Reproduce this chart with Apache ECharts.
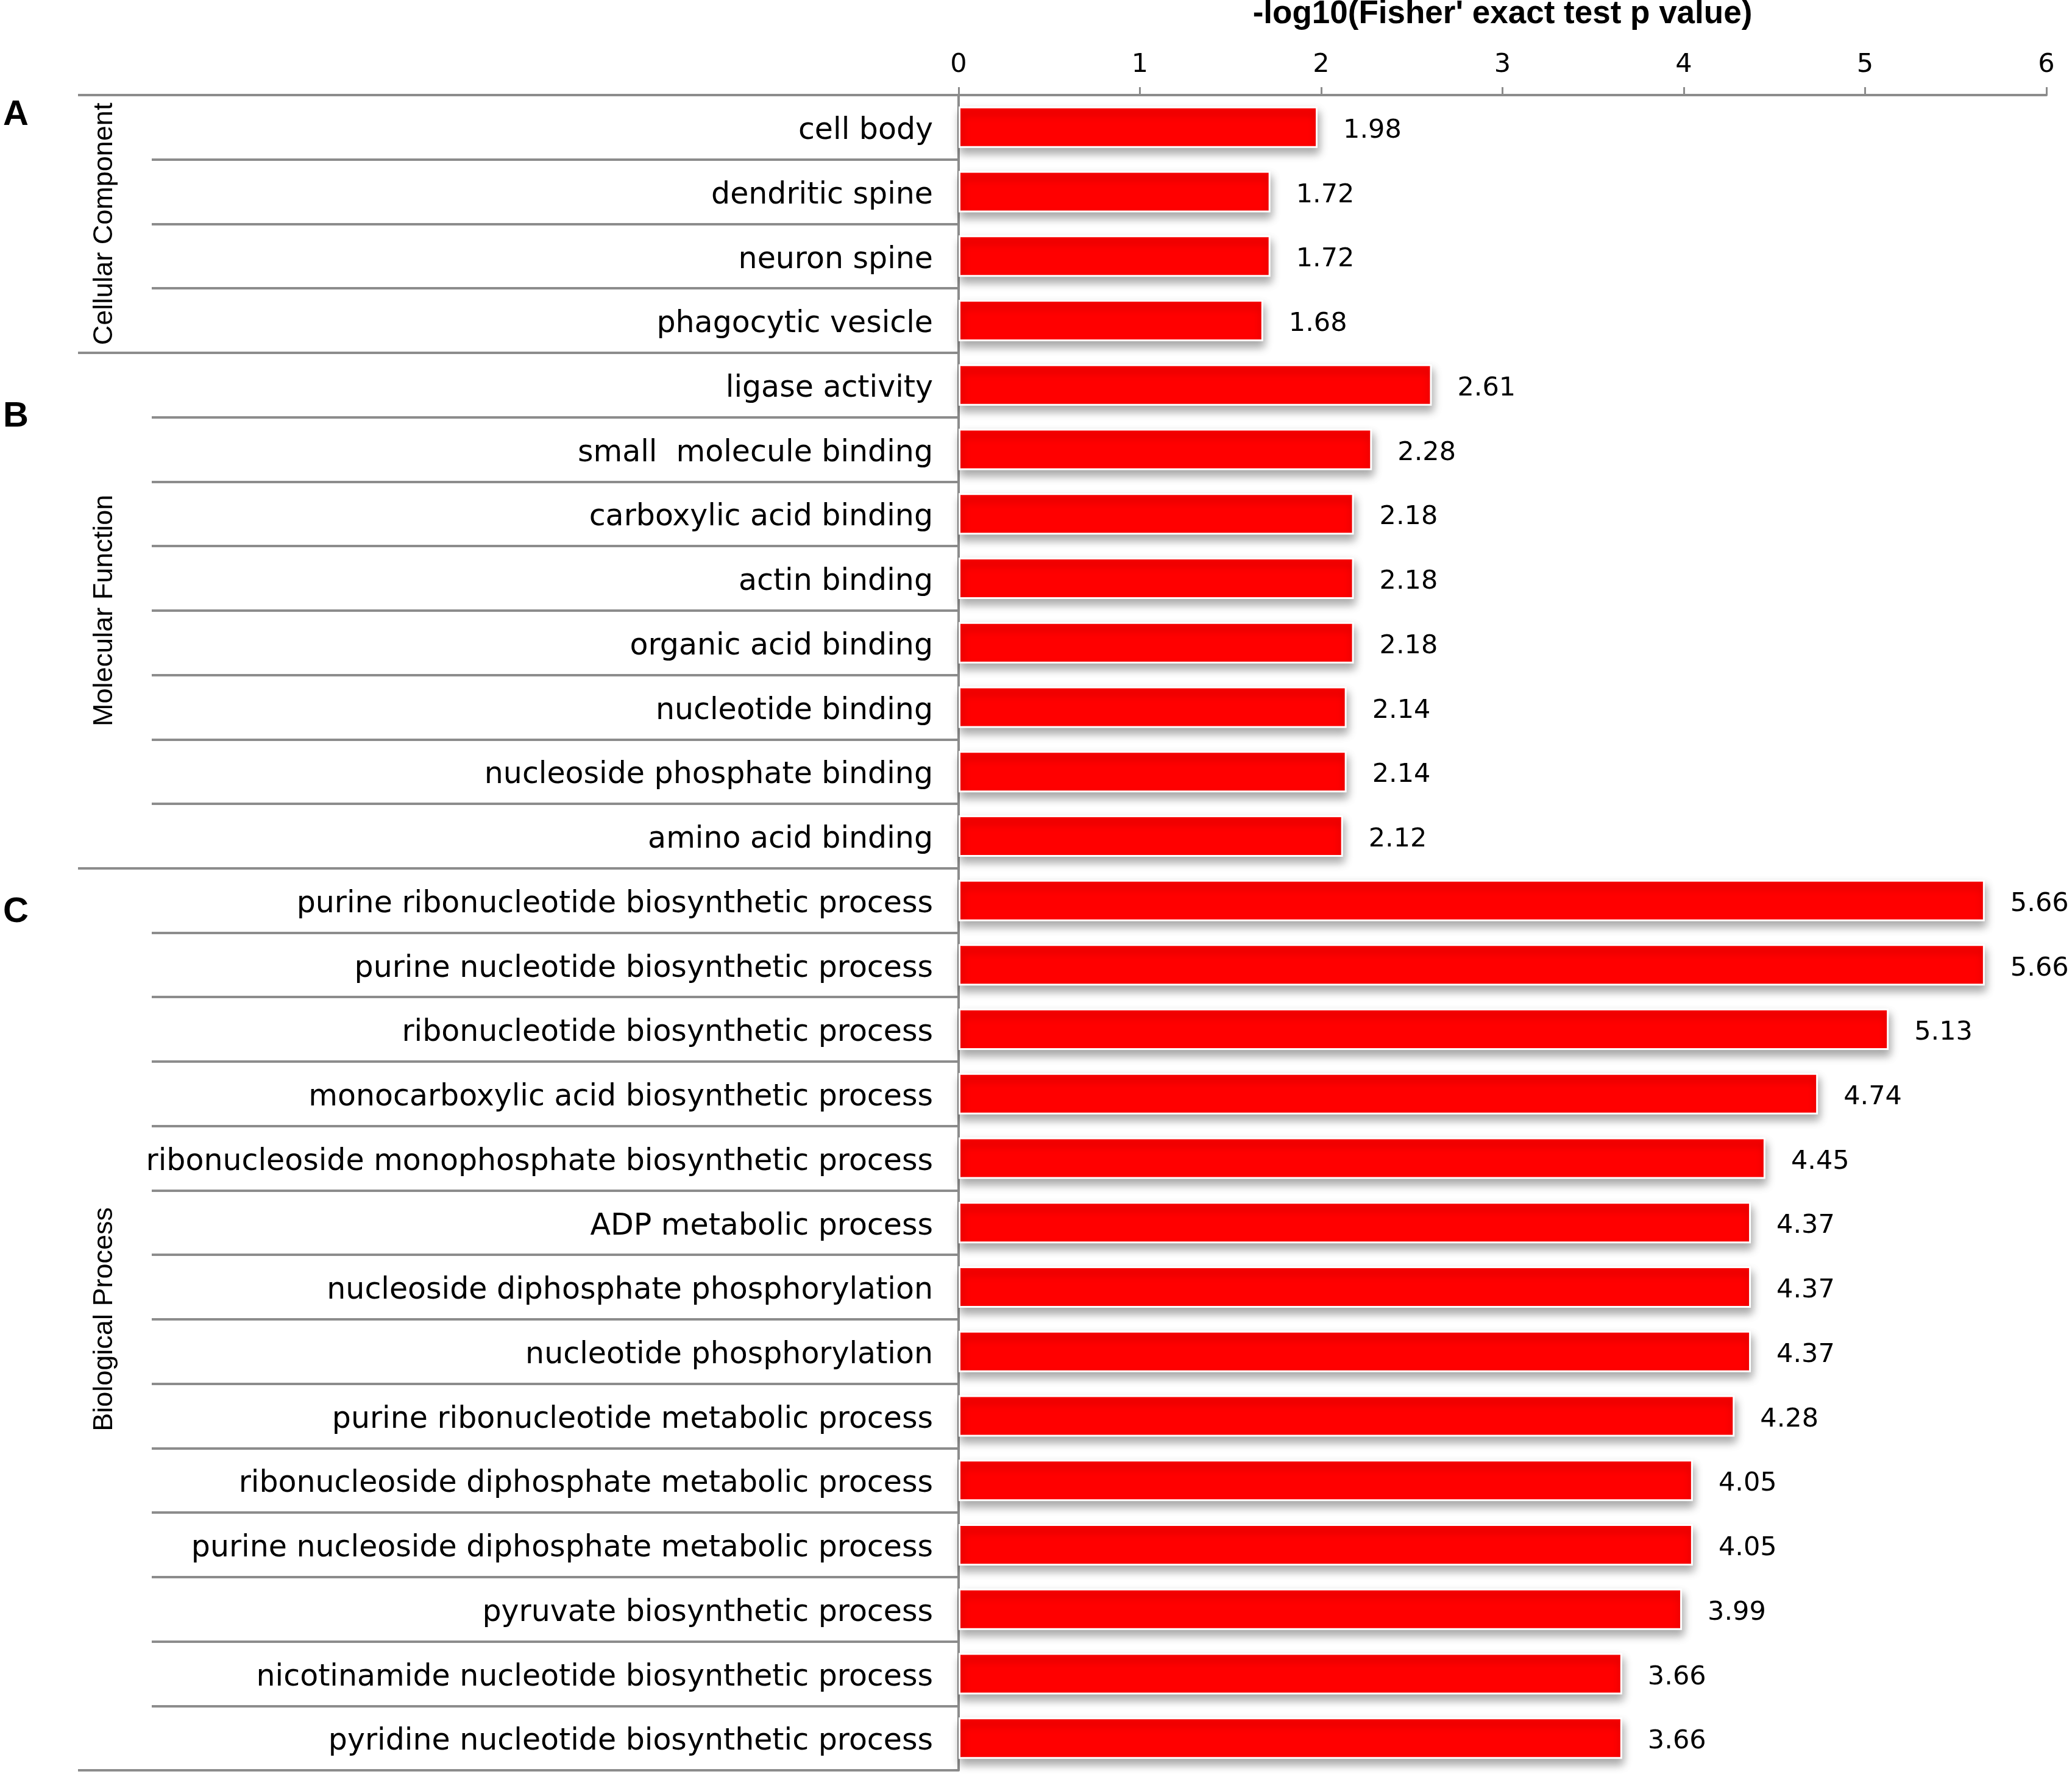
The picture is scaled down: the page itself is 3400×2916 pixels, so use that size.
<!DOCTYPE html>
<html>
<head>
<meta charset="utf-8">
<script src="https://cdn.jsdelivr.net/npm/echarts@6/dist/echarts.min.js"></script>
<style>
html,body{margin:0;padding:0;background:#fff;}
#chart{width:3400px;height:2916px;}
</style>
</head>
<body>
<div id="chart"></div>
<script>
// ---- data ----
const groupNames = ['Cellular Component', 'Molecular Function', 'Biological Process'];
const groupSizes = [4, 8, 14];
const panelLetters = ['A', 'B', 'C'];
const categories = [
  'cell body', 'dendritic spine', 'neuron spine', 'phagocytic vesicle',
  'ligase activity', 'small  molecule binding', 'carboxylic acid binding', 'actin binding',
  'organic acid binding', 'nucleotide binding', 'nucleoside phosphate binding', 'amino acid binding',
  'purine ribonucleotide biosynthetic process', 'purine nucleotide biosynthetic process',
  'ribonucleotide biosynthetic process', 'monocarboxylic acid biosynthetic process',
  'ribonucleoside monophosphate biosynthetic process', 'ADP metabolic process',
  'nucleoside diphosphate phosphorylation', 'nucleotide phosphorylation',
  'purine ribonucleotide metabolic process', 'ribonucleoside diphosphate metabolic process',
  'purine nucleoside diphosphate metabolic process', 'pyruvate biosynthetic process',
  'nicotinamide nucleotide biosynthetic process', 'pyridine nucleotide biosynthetic process'
];
const values = [
  1.98, 1.72, 1.72, 1.68,
  2.61, 2.28, 2.18, 2.18, 2.18, 2.14, 2.14, 2.12,
  5.66, 5.66, 5.13, 4.74, 4.45, 4.37, 4.37, 4.37, 4.28, 4.05, 4.05, 3.99, 3.66, 3.66
];
const xMin = 0, xMax = 6, xInterval = 1;
const axisTitle = "-log10(Fisher' exact test p value)";

// derived group boundaries / midpoints (in row units)
const boundaries = [0];
groupSizes.forEach(s => boundaries.push(boundaries[boundaries.length - 1] + s));
const midpoints = groupSizes.map((s, i) => boundaries[i] + s / 2);
const totalRows = boundaries[boundaries.length - 1];

const gray = '#8c8c8c';
const chart = echarts.init(document.getElementById('chart'));

const option = {
  animation: false,
  backgroundColor: '#ffffff',
  grid: { left: 1573, right: 42, top: 156, bottom: 11, containLabel: false, outerBoundsMode: 'none' },
  xAxis: {
    type: 'value', position: 'top', min: xMin, max: xMax, interval: xInterval,
    name: axisTitle, nameLocation: 'middle', nameGap: 106,
    nameTextStyle: { fontFamily: 'Liberation Sans', fontWeight: 'bold', fontSize: 53, color: '#000' },
    axisLine: { show: true, lineStyle: { color: gray, width: 4 } },
    axisTick: { show: true, inside: false, length: 13, lineStyle: { color: gray, width: 3 } },
    axisLabel: { show: true, margin: 28, fontFamily: 'DejaVu Sans', fontSize: 43, color: '#000' },
    splitLine: { show: false }
  },
  yAxis: [
    {
      type: 'category', inverse: true, data: categories, position: 'left',
      axisLine: { show: true, lineStyle: { color: gray, width: 4 } },
      axisTick: { show: true, inside: false, length: 1324, interval: 0, lineStyle: { color: gray, width: 4 } },
      axisLabel: {
        show: true, interval: 0, margin: 42,
        formatter: v => '{l|' + v + '}',
        rich: { l: { fontFamily: 'DejaVu Sans', fontSize: 49, color: '#000', padding: [13, 0, 0, 0] } }
      },
      splitLine: { show: false }
    },
    {
      type: 'value', inverse: true, min: 0, max: totalRows, position: 'left', offset: 0,
      axisLine: { show: false },
      axisTick: { show: true, inside: false, length: 1445, customValues: boundaries, lineStyle: { color: gray, width: 4 } },
      axisLabel: {
        show: true, customValues: midpoints, rotate: 90, margin: 1379,
        fontFamily: 'Liberation Sans', fontSize: 45, color: '#000',
        formatter: function (v) { const i = midpoints.indexOf(v); return i >= 0 ? groupNames[i] : ''; }
      },
      splitLine: { show: false }
    }
  ],
  series: [{
    type: 'bar', yAxisIndex: 0, data: values, barWidth: 68, silent: true,
    itemStyle: {
      color: '#ff0000', borderColor: '#ffffff', borderWidth: 3,
      shadowColor: 'rgba(0,0,0,0.35)', shadowBlur: 14, shadowOffsetX: 2, shadowOffsetY: 9
    },
    label: {
      show: true, position: 'right', distance: 42, offset: [0, 6],
      fontFamily: 'DejaVu Sans', fontSize: 43, color: '#000',
      formatter: p => p.value.toFixed(2)
    }
  }],
  graphic: [
    { type: 'text', left: 5, top: 160, style: { text: panelLetters[0], font: 'bold 58px "Liberation Sans"', fill: '#000' } },
    { type: 'text', left: 5, top: 655, style: { text: panelLetters[1], font: 'bold 58px "Liberation Sans"', fill: '#000' } },
    { type: 'text', left: 5, top: 1468, style: { text: panelLetters[2], font: 'bold 58px "Liberation Sans"', fill: '#000' } }
  ]
};
chart.setOption(option);
</script>
</body>
</html>
